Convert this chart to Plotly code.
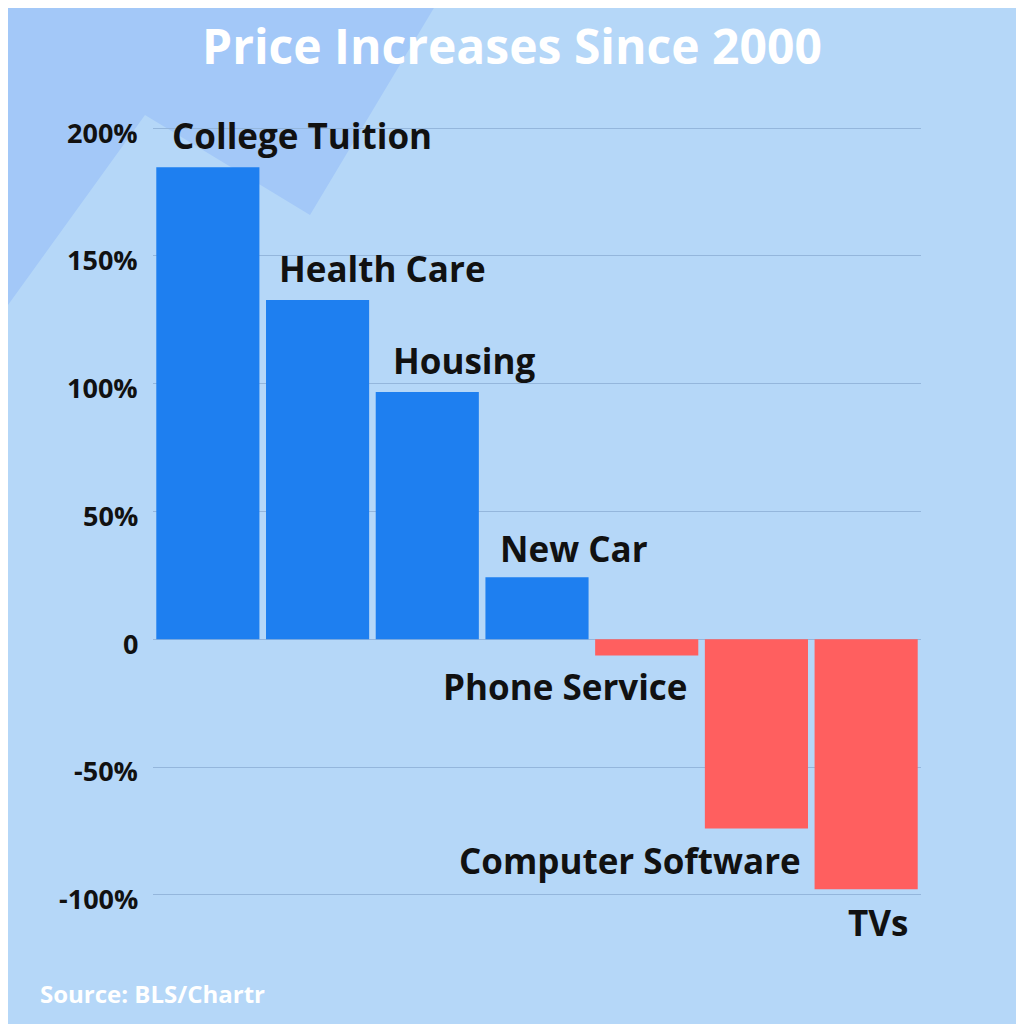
import plotly.graph_objects as go

categories = ["College Tuition", "Health Care", "Housing", "New Car",
              "Phone Service", "Computer Software", "TVs"]
values = [184.7, 132.7, 96.7, 24.3, -6.3, -74.0, -97.8]
tick_vals = [200, 150, 100, 50, 0, -50, -100]
tick_text = ["200%", "150%", "100%", "50%", "0", "-50%", "-100%"]

W = 1024
OFF = 8  # page margin of the browser
def px(x): return (x - OFF) / W
def py(y): return 1 - (y - OFF) / W

FONT = "Open Sans"
colors = ["#1e7ff0" if v >= 0 else "#ff5f5f" for v in values]

fig = go.Figure(go.Bar(x=categories, y=values, marker_color=colors,
                       marker_line_width=0, width=0.94))

# background triangle
fig.add_shape(type="path", xref="paper", yref="paper", layer="below",
              path="M %f 1.01 L %f 1.01 L %f %f L %f %f L %f %f Z" % (
                  px(-10), px(440), px(310), py(215), px(145), py(115), px(-10), py(330)),
              fillcolor="#a3c8f8", line_width=0)

label_pos = [(170, 135, "left"), (277, 268, "left"), (391, 360, "left"),
             (498, 548, "left"), (690, 686, "right"), (803, 860, "right"),
             (910, 922, "right")]
for name, (x, y, a) in zip(categories, label_pos):
    fig.add_annotation(text="<b>%s</b>" % name, xref="paper", yref="paper",
                       x=px(x), y=py(y), xanchor=a, yanchor="middle",
                       showarrow=False,
                       font=dict(size=35, color="#111111", family=FONT))

for v, t in zip(tick_vals, tick_text):
    y = 639 - v * 2.555
    fig.add_annotation(text="<b>%s</b>" % t, xref="paper", yref="paper",
                       x=px(140), y=py(y + 4), xanchor="right", yanchor="middle",
                       showarrow=False,
                       font=dict(size=27, color="#111111", family=FONT))

fig.add_annotation(text="<b>Price Increases Since 2000</b>", xref="paper", yref="paper",
                   x=px(512), y=py(45), xanchor="center", yanchor="middle", showarrow=False,
                   font=dict(size=48, color="white", family=FONT))
fig.add_annotation(text="<b>Source: BLS/Chartr</b>", xref="paper", yref="paper",
                   x=px(38), y=py(993), xanchor="left", yanchor="middle", showarrow=False,
                   font=dict(size=24, color="white", family=FONT))

fig.update_layout(
    width=1024, height=1024, margin=dict(l=0, r=0, t=0, b=0),
    paper_bgcolor="#b5d7f8", plot_bgcolor="rgba(0,0,0,0)",
    bargap=0.06, showlegend=False,
    xaxis=dict(domain=[px(153), px(921)], showticklabels=False, showgrid=False,
               zeroline=False),
    yaxis=dict(domain=[py(897), py(126)], range=[-100.8, 200.8], tickvals=tick_vals,
               showticklabels=False, gridcolor="#94b6dc", gridwidth=1,
               zeroline=True, zerolinecolor="#94b6dc", zerolinewidth=1),
)

fig.write_html("out.html")
